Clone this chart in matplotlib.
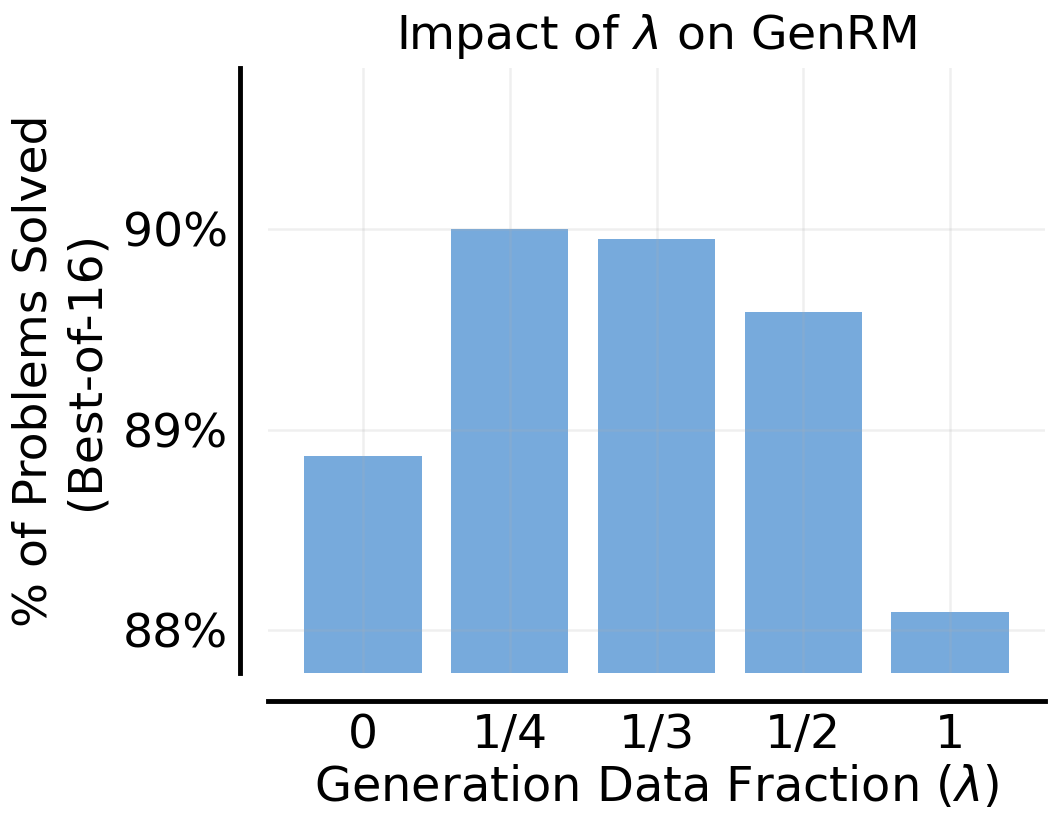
import matplotlib
matplotlib.use("Agg")
import matplotlib.pyplot as plt
from matplotlib.ticker import FuncFormatter

categories = ["0", "1/4", "1/3", "1/2", "1"]
values = [88.87, 90.00, 89.95, 89.585, 88.09]
yticks = [88, 89, 90]

fig = plt.figure(figsize=(10.59, 8.22), dpi=100)
ax = fig.add_axes([268/1059, 1 - 673/822, (1045-268)/1059, (673-68)/822])

x = list(range(len(categories)))
ax.bar(x, values, width=0.8, color="#77aadc", zorder=1, bottom=0)
ax.set_ylim(87.785, 90.805)
ax.set_xlim(-0.646, 4.646)
ax.set_xticks(x)
ax.set_xticklabels(categories)
ax.set_yticks(yticks)
ax.yaxis.set_major_formatter(FuncFormatter(lambda v, p: f"{v:.0f}%"))
ax.grid(True, color="#b0b0b0", linewidth=1.8, alpha=0.2, zorder=3)
ax.set_axisbelow(False)
for s in ["top", "right"]:
    ax.spines[s].set_visible(False)
ax.spines["left"].set_position(("outward", 20))
ax.spines["bottom"].set_position(("outward", 20))
ax.spines["left"].set_linewidth(3.5)
ax.spines["bottom"].set_linewidth(3.5)
ax.tick_params(axis="both", length=0, labelsize=34, pad=9)
ax.set_xlabel("Generation Data Fraction ($\\lambda$)", fontsize=34.5, labelpad=4)
ax.set_ylabel("% of Problems Solved\n(Best-of-16)", fontsize=34, labelpad=10)
ax.set_title("Impact of $\\lambda$ on GenRM", fontsize=34, pad=14)

fig.savefig("out.png", dpi=100)
